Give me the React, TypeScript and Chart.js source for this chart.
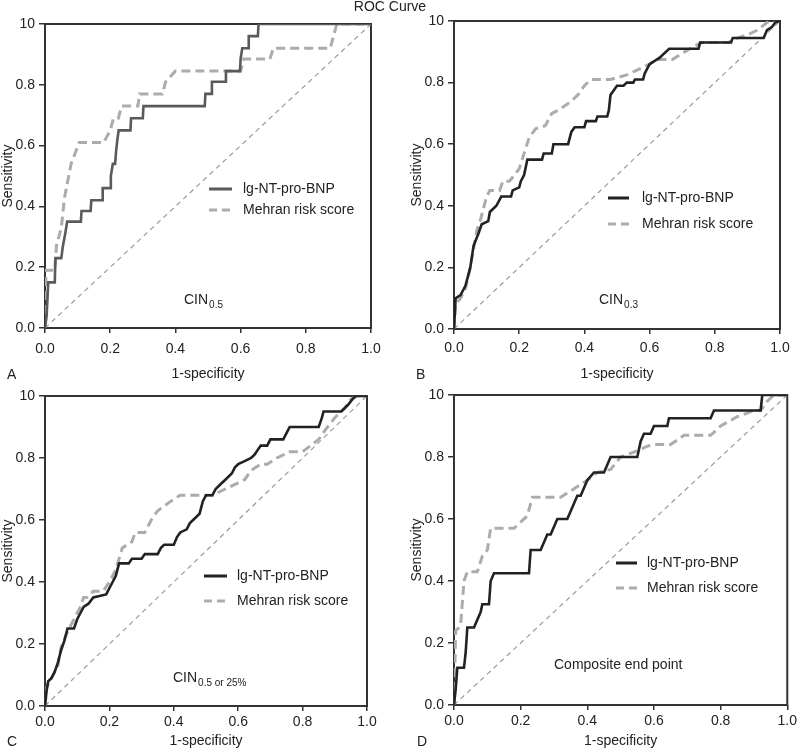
import React, { useEffect, useRef } from 'react';
import { Chart, registerables } from 'chart.js';
Chart.register(...registerables);

const FONT = '"Liberation Sans", Arial, Helvetica, sans-serif';
const chartTitle = 'ROC Curve';
const xAxisTitle = '1-specificity';
const yAxisTitle = 'Sensitivity';
const seriesNames = ['lg-NT-pro-BNP', 'Mehran risk score'];
const yTickLabels = ['0.0', '0.2', '0.4', '0.6', '0.8', '10'];
const xTickLabels = ['0.0', '0.2', '0.4', '0.6', '0.8', '1.0'];
const diagonal = [[0, 0], [1, 1]];

// Panel A – CIN0.5
const aBnp = [[0,0],[0.005,0.04],[0.01,0.15],[0.03,0.15],[0.032,0.23],[0.05,0.23],[0.055,0.27],[0.062,0.31],[0.068,0.35],[0.11,0.35],[0.112,0.385],[0.14,0.385],[0.142,0.42],[0.175,0.42],[0.177,0.46],[0.2,0.46],[0.202,0.5],[0.208,0.54],[0.215,0.54],[0.218,0.58],[0.222,0.62],[0.226,0.65],[0.262,0.65],[0.264,0.69],[0.3,0.69],[0.302,0.73],[0.49,0.73],[0.492,0.77],[0.51,0.77],[0.512,0.81],[0.553,0.81],[0.555,0.845],[0.598,0.845],[0.6,0.885],[0.605,0.92],[0.623,0.92],[0.625,0.96],[0.653,0.96],[0.655,1],[1,1]];
const aMehran = [[0,0],[0.003,0.19],[0.03,0.19],[0.035,0.27],[0.05,0.33],[0.06,0.43],[0.08,0.54],[0.105,0.61],[0.18,0.61],[0.2,0.65],[0.21,0.69],[0.225,0.69],[0.235,0.73],[0.285,0.73],[0.29,0.77],[0.36,0.77],[0.37,0.81],[0.4,0.845],[0.6,0.845],[0.61,0.885],[0.69,0.885],[0.7,0.92],[0.875,0.92],[0.885,0.96],[0.895,1],[1,1]];

// Panel B – CIN0.3
const bBnp = [[0,0],[0.005,0.1],[0.02,0.11],[0.035,0.14],[0.05,0.2],[0.06,0.27],[0.075,0.31],[0.085,0.34],[0.105,0.35],[0.11,0.38],[0.13,0.4],[0.145,0.43],[0.175,0.43],[0.18,0.45],[0.2,0.46],[0.205,0.48],[0.215,0.5],[0.225,0.55],[0.27,0.55],[0.275,0.57],[0.3,0.57],[0.305,0.6],[0.35,0.6],[0.36,0.64],[0.37,0.655],[0.4,0.655],[0.405,0.675],[0.435,0.675],[0.44,0.69],[0.47,0.69],[0.475,0.71],[0.48,0.76],[0.5,0.79],[0.52,0.79],[0.53,0.8],[0.55,0.8],[0.555,0.81],[0.58,0.81],[0.585,0.83],[0.6,0.86],[0.63,0.88],[0.66,0.91],[0.75,0.91],[0.755,0.93],[0.85,0.93],[0.855,0.945],[0.95,0.945],[0.96,0.97],[0.975,0.98],[0.985,0.995],[1,1]];
const bMehran = [[0,0],[0.005,0.08],[0.02,0.1],[0.035,0.13],[0.05,0.2],[0.06,0.26],[0.07,0.32],[0.08,0.35],[0.1,0.43],[0.11,0.45],[0.14,0.45],[0.15,0.48],[0.17,0.48],[0.2,0.52],[0.215,0.57],[0.23,0.62],[0.25,0.65],[0.28,0.66],[0.3,0.7],[0.32,0.71],[0.36,0.74],[0.38,0.76],[0.4,0.79],[0.42,0.81],[0.48,0.81],[0.53,0.825],[0.6,0.86],[0.62,0.875],[0.67,0.875],[0.7,0.895],[0.74,0.92],[0.76,0.93],[0.84,0.93],[0.87,0.945],[0.9,0.955],[0.93,0.97],[0.96,0.995],[0.98,1],[1,1]];

// Panel C – CIN0.5 or 25%
const cBnp = [[0,0],[0.005,0.05],[0.01,0.08],[0.02,0.09],[0.03,0.11],[0.04,0.14],[0.05,0.18],[0.06,0.21],[0.07,0.25],[0.09,0.25],[0.1,0.28],[0.11,0.3],[0.12,0.32],[0.135,0.33],[0.15,0.35],[0.19,0.36],[0.2,0.38],[0.21,0.4],[0.22,0.42],[0.23,0.46],[0.26,0.46],[0.27,0.475],[0.3,0.475],[0.31,0.49],[0.35,0.49],[0.36,0.51],[0.37,0.52],[0.4,0.52],[0.41,0.545],[0.42,0.56],[0.44,0.57],[0.45,0.59],[0.46,0.6],[0.48,0.62],[0.49,0.66],[0.5,0.68],[0.52,0.68],[0.53,0.7],[0.55,0.72],[0.56,0.73],[0.58,0.75],[0.59,0.77],[0.6,0.78],[0.62,0.79],[0.64,0.8],[0.65,0.81],[0.67,0.84],[0.69,0.84],[0.7,0.86],[0.74,0.86],[0.75,0.88],[0.76,0.9],[0.85,0.9],[0.86,0.93],[0.865,0.95],[0.92,0.95],[0.94,0.97],[0.955,0.99],[0.965,1],[1,1]];
const cMehran = [[0,0],[0.005,0.06],[0.02,0.09],[0.04,0.13],[0.05,0.19],[0.07,0.24],[0.09,0.28],[0.11,0.32],[0.12,0.35],[0.13,0.35],[0.15,0.37],[0.18,0.37],[0.2,0.4],[0.22,0.44],[0.24,0.51],[0.27,0.53],[0.28,0.56],[0.31,0.56],[0.33,0.6],[0.35,0.63],[0.39,0.66],[0.42,0.68],[0.52,0.68],[0.6,0.72],[0.62,0.73],[0.64,0.76],[0.67,0.78],[0.69,0.78],[0.72,0.8],[0.76,0.82],[0.8,0.82],[0.85,0.86],[0.87,0.89],[0.9,0.93],[0.93,0.96],[0.95,0.99],[0.97,1],[1,1]];

// Panel D – Composite end point
const dBnp = [[0,0],[0.005,0.05],[0.01,0.12],[0.03,0.12],[0.035,0.17],[0.04,0.25],[0.06,0.25],[0.07,0.275],[0.08,0.3],[0.085,0.325],[0.105,0.325],[0.11,0.4],[0.12,0.425],[0.225,0.425],[0.23,0.5],[0.26,0.5],[0.27,0.525],[0.28,0.55],[0.29,0.55],[0.3,0.575],[0.31,0.6],[0.34,0.6],[0.35,0.625],[0.36,0.65],[0.37,0.675],[0.38,0.675],[0.39,0.7],[0.4,0.725],[0.42,0.75],[0.45,0.75],[0.46,0.775],[0.47,0.8],[0.55,0.8],[0.555,0.825],[0.56,0.85],[0.57,0.875],[0.59,0.875],[0.6,0.9],[0.64,0.9],[0.645,0.925],[0.77,0.925],[0.78,0.95],[0.92,0.95],[0.925,1],[1,1]];
const dMehran = [[0,0],[0.005,0.24],[0.015,0.25],[0.02,0.26],[0.03,0.4],[0.04,0.43],[0.07,0.43],[0.085,0.48],[0.1,0.5],[0.11,0.57],[0.18,0.57],[0.22,0.61],[0.235,0.67],[0.32,0.67],[0.4,0.725],[0.43,0.75],[0.47,0.76],[0.5,0.8],[0.55,0.82],[0.58,0.835],[0.6,0.84],[0.65,0.84],[0.69,0.87],[0.77,0.87],[0.8,0.9],[0.85,0.93],[0.9,0.95],[0.92,0.95],[0.94,0.98],[0.96,1],[1,1]];

type Panel = {
  letter: string; left: number; top: number; w: number; h: number; padL: number;
  area: { l: number; r: number; t: number; b: number };
  xTickPad: number; xTitlePadB: number; letterX: number; letterY: number;
  lx1: number; lx2: number; ltx: number; ly1: number; ly2: number;
  noteX: number; noteY: number; note: string; noteSub: string;
  bnp: number[][]; mehran: number[][]; bnpColor: string;
};

const panels: Panel[] = [
  { letter: 'A', left: 0, top: 0, w: 400, h: 390, padL: 0, area: { l: 45, r: 371, t: 24, b: 328 }, xTickPad: 8, xTitlePadB: 7, letterX: 7, letterY: 375,
    lx1: 209, lx2: 232, ltx: 243, ly1: 189, ly2: 210, noteX: 184, noteY: 300, note: 'CIN', noteSub: '0.5', bnp: aBnp, mehran: aMehran, bnpColor: '#5a5a5a' },
  { letter: 'B', left: 400, top: 0, w: 400, h: 390, padL: 9, area: { l: 54, r: 380, t: 21, b: 329 }, xTickPad: 6, xTitlePadB: 7, letterX: 16, letterY: 375,
    lx1: 208, lx2: 229, ltx: 242, ly1: 198, ly2: 224, noteX: 199, noteY: 300, note: 'CIN', noteSub: '0.3', bnp: bBnp, mehran: bMehran, bnpColor: '#222222' },
  { letter: 'C', left: 0, top: 380, w: 400, h: 370, padL: 0, area: { l: 45, r: 367, t: 16, b: 326 }, xTickPad: 3, xTitlePadB: 0, letterX: 7, letterY: 362,
    lx1: 204, lx2: 227, ltx: 237, ly1: 196, ly2: 221, noteX: 173, noteY: 298, note: 'CIN', noteSub: '0.5 or 25%', bnp: cBnp, mehran: cMehran, bnpColor: '#222222' },
  { letter: 'D', left: 400, top: 380, w: 400, h: 370, padL: 9, area: { l: 54, r: 389, t: 15, b: 325 }, xTickPad: 3, xTitlePadB: 0, letterX: 17, letterY: 362,
    lx1: 216, lx2: 237, ltx: 247, ly1: 183, ly2: 208, noteX: 154, noteY: 285, note: 'Composite end point', noteSub: '', bnp: dBnp, mehran: dMehran, bnpColor: '#222222' },
];

const MEHRAN_COLOR = '#acacac';
const FRAME = '#333333';
const TEXT = '#222222';

function makeChart(canvas: HTMLCanvasElement, p: Panel) {
  const toPts = (arr: number[][]) => arr.map(([x, y]) => ({ x, y }));
  const decor = {
    id: 'decor',
    beforeDatasetsDraw(chart: any) {
      const { ctx, chartArea: a } = chart;
      ctx.save();
      ctx.strokeStyle = FRAME;
      ctx.lineWidth = 2;
      ctx.strokeRect(a.left, a.top, a.right - a.left, a.bottom - a.top);
      ctx.restore();
    },
    afterDraw(chart: any) {
      const { ctx } = chart;
      ctx.save();
      ctx.font = `14px ${FONT}`;
      ctx.fillStyle = TEXT;
      ctx.textBaseline = 'middle';
      ctx.textAlign = 'left';
      // panel letter
      ctx.fillText(p.letter, p.letterX, p.letterY);
      // legend
      ctx.lineWidth = 3;
      ctx.strokeStyle = p.bnpColor;
      ctx.setLineDash([]);
      ctx.beginPath(); ctx.moveTo(p.lx1, p.ly1); ctx.lineTo(p.lx2, p.ly1); ctx.stroke();
      ctx.strokeStyle = MEHRAN_COLOR;
      ctx.setLineDash([8, 5]);
      ctx.beginPath(); ctx.moveTo(p.lx1, p.ly2); ctx.lineTo(p.lx2 + 1, p.ly2); ctx.stroke();
      ctx.setLineDash([]);
      ctx.fillText(seriesNames[0], p.ltx, p.ly1);
      ctx.fillText(seriesNames[1], p.ltx, p.ly2);
      // annotation
      ctx.fillText(p.note, p.noteX, p.noteY);
      if (p.noteSub) {
        const w = ctx.measureText(p.note).width;
        ctx.font = `10px ${FONT}`;
        ctx.fillText(p.noteSub, p.noteX + w + 1, p.noteY + 5);
      }
      ctx.restore();
    },
  };

  return new Chart(canvas, {
    type: 'line',
    data: {
      datasets: [
        { label: 'Reference', data: toPts(diagonal), borderColor: '#9c9c9c', borderWidth: 1.2, borderDash: [5, 4], pointRadius: 0, order: 3 },
        { label: seriesNames[1], data: toPts(p.mehran), borderColor: MEHRAN_COLOR, borderWidth: 3, borderDash: [9, 5], pointRadius: 0, order: 2 },
        { label: seriesNames[0], data: toPts(p.bnp), borderColor: p.bnpColor, borderWidth: 2.6, pointRadius: 0, order: 1 },
      ],
    },
    options: {
      responsive: false,
      animation: false,
      devicePixelRatio: 1,
      layout: { padding: { left: p.padL, top: p.area.t, right: p.w - p.area.r, bottom: 0 } },
      elements: { line: { tension: 0, borderJoinStyle: 'miter' } },
      plugins: { legend: { display: false }, tooltip: { enabled: false }, title: { display: false } },
      scales: {
        x: {
          type: 'linear', min: 0, max: 1,
          afterFit: (s: any) => { s.height = p.h - p.area.b; },
          ticks: { stepSize: 0.2, maxRotation: 0, autoSkip: false, padding: p.xTickPad, color: TEXT, font: { family: FONT, size: 14 },
            callback: (_v: any, i: number) => xTickLabels[i] },
          grid: { drawOnChartArea: false, drawTicks: true, tickLength: 5, color: FRAME, lineWidth: 1.5 },
          border: { display: false },
          title: { display: true, text: xAxisTitle, color: TEXT, font: { family: FONT, size: 14 }, padding: { top: 0, bottom: p.xTitlePadB } },
        },
        y: {
          type: 'linear', min: 0, max: 1,
          afterFit: (s: any) => { s.width = p.area.l - p.padL; },
          ticks: { stepSize: 0.2, autoSkip: false, padding: 4, color: TEXT, font: { family: FONT, size: 14 },
            callback: (_v: any, i: number) => yTickLabels[i] },
          grid: { drawOnChartArea: false, drawTicks: true, tickLength: 6, color: FRAME, lineWidth: 1.5 },
          border: { display: false },
          title: { display: true, text: yAxisTitle, color: TEXT, font: { family: FONT, size: 14 }, padding: { top: 0, bottom: 0 } },
        },
      },
    } as any,
    plugins: [decor],
  });
}

export default function App() {
  const refs = useRef<(HTMLCanvasElement | null)[]>([]);
  useEffect(() => {
    const charts = panels.map((p, i) => makeChart(refs.current[i] as HTMLCanvasElement, p));
    return () => charts.forEach((c) => c.destroy());
  }, []);
  return (
    <div style={{ position: 'absolute', left: 0, top: 0, width: 800, height: 750, background: '#ffffff', overflow: 'hidden' }}>
      {panels.map((p, i) => (
        <canvas
          key={p.letter}
          ref={(el) => { refs.current[i] = el; }}
          width={p.w}
          height={p.h}
          style={{ position: 'absolute', left: p.left, top: p.top, width: p.w, height: p.h }}
        />
      ))}
      <div style={{ position: 'absolute', left: 0, top: -2, width: 780, textAlign: 'center', font: `14px ${FONT}`, lineHeight: '16px', color: TEXT }}>
        {chartTitle}
      </div>
    </div>
  );
}
